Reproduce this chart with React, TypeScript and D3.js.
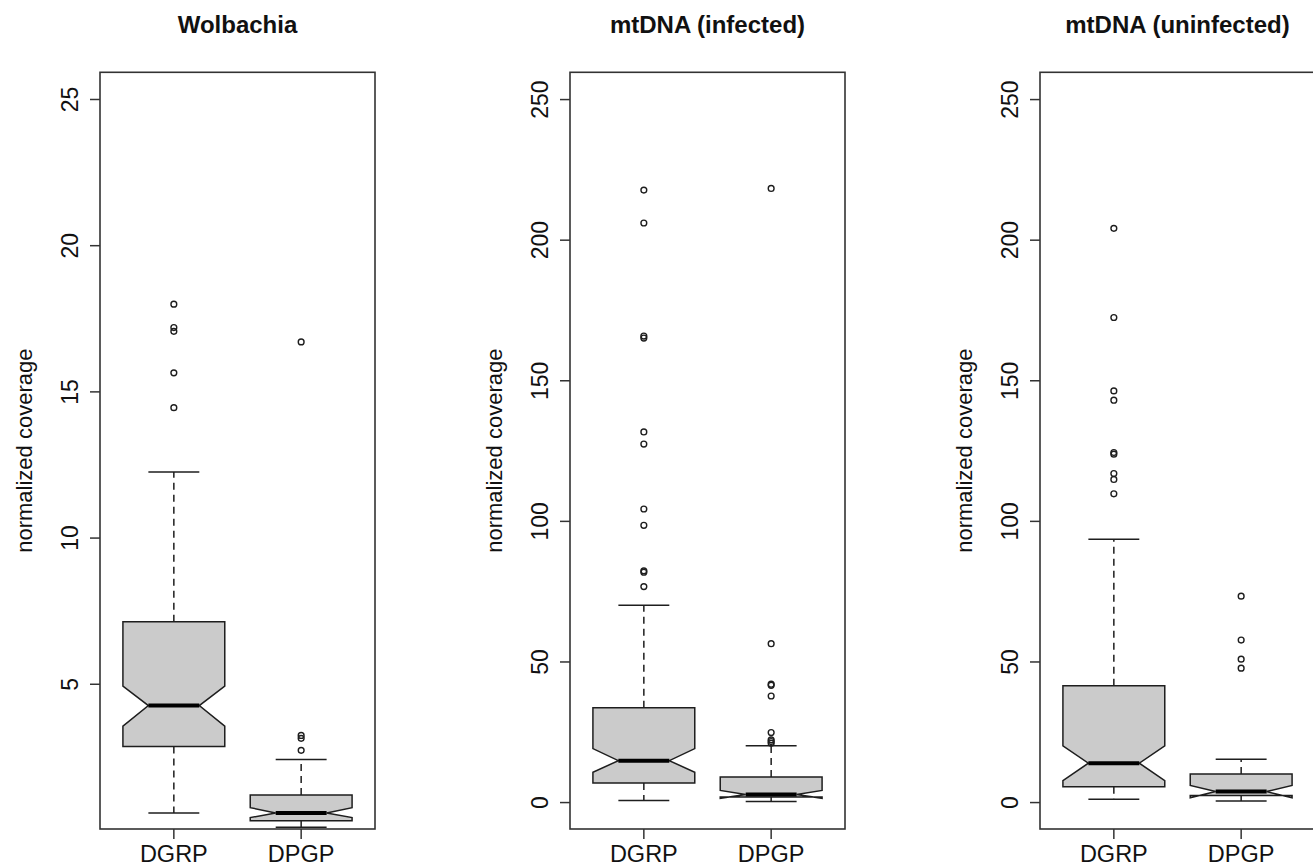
import React from "react";
import * as d3 from "d3";

// ---------- data ----------
const groups = ["DGRP", "DPGP"];
const panelTitles = ["Wolbachia", "mtDNA (infected)", "mtDNA (uninfected)"];
const yLabel = "normalized coverage";

// [lower whisker, Q1, median, Q3, upper whisker]
const wolbachiaStats = [
  [0.6, 2.87, 4.27, 7.14, 12.26],
  [0.11, 0.33, 0.6, 1.21, 2.43],
];
const wolbachiaNotch = [
  [3.57, 4.94],
  [0.44, 0.78],
];
const wolbachiaOutliers = [
  [18.0, 17.2, 17.07, 15.65, 14.46],
  [16.71, 3.25, 3.15, 2.74],
];
const wolbachiaTicks = [5, 10, 15, 20, 25];
const wolbachiaDomain = [0.05, 25.93];

const infectedStats = [
  [0.7, 7.0, 14.9, 33.7, 70.2],
  [0.36, 2.0, 2.9, 9.1, 20.2],
];
const infectedNotch = [
  [10.8, 19.2],
  [1.5, 4.3],
];
const infectedOutliers = [
  [217.8, 206.1, 165.9, 165.2, 131.8, 127.5, 104.4, 98.6, 82.4, 81.9, 76.8],
  [218.4, 56.5, 42.1, 41.7, 37.9, 24.9, 22.3, 21.7, 21.1],
];

const uninfectedStats = [
  [1.2, 5.6, 14.0, 41.5, 93.6],
  [0.6, 2.5, 3.9, 10.2, 15.4],
];
const uninfectedNotch = [
  [7.8, 20.2],
  [1.7, 6.1],
];
const uninfectedOutliers = [
  [204.2, 172.5, 146.4, 143.1, 124.5, 123.9, 117.0, 114.9, 109.8],
  [73.4, 57.8, 51.0, 47.8],
];
const mtTicks = [0, 50, 100, 150, 200, 250];
const mtDomain = [-9.4, 259.7];

const panels = [
  { title: panelTitles[0], stats: wolbachiaStats, notch: wolbachiaNotch, outliers: wolbachiaOutliers, ticks: wolbachiaTicks, domain: wolbachiaDomain },
  { title: panelTitles[1], stats: infectedStats, notch: infectedNotch, outliers: infectedOutliers, ticks: mtTicks, domain: mtDomain },
  { title: panelTitles[2], stats: uninfectedStats, notch: uninfectedNotch, outliers: uninfectedOutliers, ticks: mtTicks, domain: mtDomain },
];

// ---------- layout ----------
const W = 1313;
const H = 866;
const panelLefts = [100, 570, 1040];
const plotW = 275;
const plotTop = 72.3;
const plotBottom = 829;
const FONT = "'Liberation Sans', Arial, Helvetica, sans-serif";
const AX = "#1e1e1e";

function Panel({ p, left, idx }: any) {
  const x = d3.scaleLinear().domain([0.42, 2.58]).range([left, left + plotW]);
  const y = d3.scaleLinear().domain(p.domain).range([plotBottom, plotTop]);
  const hw = x(1.4) - x(1); // box half width (0.4 units)
  const nf = 0.5;
  const cx = left + plotW / 2;
  const clipId = `clip${idx}`;
  return (
    <g>
      <defs>
        <clipPath id={clipId}>
          <rect x={left} y={plotTop} width={plotW} height={plotBottom - plotTop} />
        </clipPath>
      </defs>
      <text x={cx} y={33} textAnchor="middle" fontFamily={FONT} fontWeight="bold" fontSize={24} fill="#111">
        {p.title}
      </text>
      <g clipPath={`url(#${clipId})`}>
        {groups.map((g, i) => {
          const xc = x(i + 1);
          const [lw, q1, med, q3, uw] = p.stats[i];
          const [clo, chi] = p.notch[i];
          const pts: [number, number][] = [
            [xc - hw, y(q1)],
            [xc - hw, y(clo)],
            [xc - nf * hw, y(med)],
            [xc - hw, y(chi)],
            [xc - hw, y(q3)],
            [xc + hw, y(q3)],
            [xc + hw, y(chi)],
            [xc + nf * hw, y(med)],
            [xc + hw, y(clo)],
            [xc + hw, y(q1)],
          ];
          const poly = d3.line()(pts) + "Z";
          return (
            <g key={g}>
              <line x1={xc} x2={xc} y1={y(q3)} y2={y(uw)} stroke={AX} strokeWidth={1.5} strokeDasharray="7,5" />
              <line x1={xc} x2={xc} y1={y(q1)} y2={y(lw)} stroke={AX} strokeWidth={1.5} strokeDasharray="7,5" />
              <line x1={xc - hw / 2} x2={xc + hw / 2} y1={y(uw)} y2={y(uw)} stroke={AX} strokeWidth={1.5} />
              <line x1={xc - hw / 2} x2={xc + hw / 2} y1={y(lw)} y2={y(lw)} stroke={AX} strokeWidth={1.5} />
              <path d={poly} fill="#cbcbcb" stroke={AX} strokeWidth={1.5} strokeLinejoin="miter" />
              <line x1={xc - nf * hw} x2={xc + nf * hw} y1={y(med)} y2={y(med)} stroke="#000" strokeWidth={4} />
              {p.outliers[i].map((v: number, k: number) => (
                <circle key={k} cx={xc} cy={y(v)} r={2.9} fill="none" stroke={AX} strokeWidth={1.4} />
              ))}
            </g>
          );
        })}
      </g>
      {/* frame */}
      <rect x={left} y={plotTop} width={plotW} height={plotBottom - plotTop} fill="none" stroke="#333" strokeWidth={1.6} />
      {/* y axis ticks */}
      {p.ticks.map((t: number) => (
        <g key={t}>
          <line x1={left - 10} x2={left} y1={y(t)} y2={y(t)} stroke="#333" strokeWidth={1.5} />
          <text
            x={left - 22}
            y={y(t)}
            transform={`rotate(-90, ${left - 22}, ${y(t)})`}
            textAnchor="middle"
            fontFamily={FONT}
            fontSize={23}
            fill="#111"
          >
            {t}
          </text>
        </g>
      ))}
      {/* x axis ticks */}
      {groups.map((g, i) => (
        <g key={g}>
          <line x1={x(i + 1)} x2={x(i + 1)} y1={plotBottom} y2={plotBottom + 10} stroke="#333" strokeWidth={1.5} />
          <text x={x(i + 1)} y={862} textAnchor="middle" fontFamily={FONT} fontSize={23.5} fill="#111">
            {g}
          </text>
        </g>
      ))}
      <text
        x={left - 68}
        y={(plotTop + plotBottom) / 2}
        transform={`rotate(-90, ${left - 68}, ${(plotTop + plotBottom) / 2})`}
        textAnchor="middle"
        fontFamily={FONT}
        fontSize={22}
        fill="#111"
      >
        {yLabel}
      </text>
    </g>
  );
}

export default function App() {
  return (
    <svg
      width={W}
      height={H}
      viewBox={`0 0 ${W} ${H}`}
      style={{ position: "absolute", left: 0, top: 0, background: "#fff" }}
    >
      <rect x={0} y={0} width={W} height={H} fill="#fff" />
      {panels.map((p, i) => (
        <Panel key={i} p={p} left={panelLefts[i]} idx={i} />
      ))}
    </svg>
  );
}
